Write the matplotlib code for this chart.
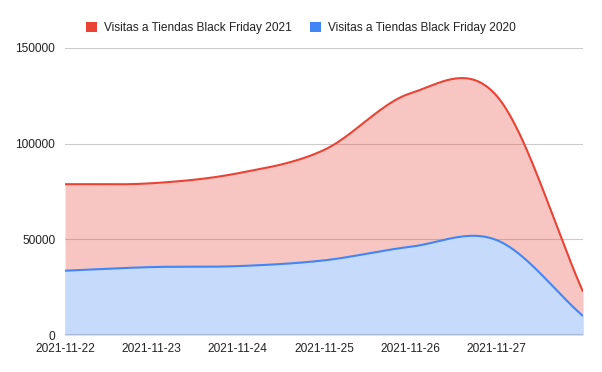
import numpy as np
import matplotlib
matplotlib.use("Agg")
import matplotlib.pyplot as plt
from matplotlib.patches import Patch

# ── data ─────────────────────────────────────────────────────────────────────
dates = ["2021-11-22", "2021-11-23", "2021-11-24", "2021-11-25",
         "2021-11-26", "2021-11-27", "2021-11-28"]
tick_labels = dates[:-1]          # the last date has no label in the original
visits_2021 = [78800, 79300, 84500, 96700, 126300, 125000, 22600]
visits_2020 = [33600, 35500, 36000, 39000, 46100, 49600, 9900]

label_2021 = "Visitas a Tiendas Black Friday 2021"
label_2020 = "Visitas a Tiendas Black Friday 2020"

RED, RED_FILL = "#ea4335", "#ea4335"
BLUE, BLUE_FILL = "#4285f4", "#c6dafc"

plt.rcParams["font.family"] = ["Liberation Sans", "DejaVu Sans"]


def smooth(y, n=40):
    """Catmull-Rom spline through the points (same look as curveType=function)."""
    y = np.asarray(y, dtype=float)
    x = np.arange(len(y), dtype=float)
    m = np.zeros_like(y)
    m[1:-1] = (y[2:] - y[:-2]) / 2.0
    m[0] = y[1] - y[0]
    m[-1] = y[-1] - y[-2]
    xs, ys = [], []
    for i in range(len(y) - 1):
        t = np.linspace(0, 1, n, endpoint=(i == len(y) - 2))
        h00 = 2 * t**3 - 3 * t**2 + 1
        h10 = t**3 - 2 * t**2 + t
        h01 = -2 * t**3 + 3 * t**2
        h11 = t**3 - t**2
        xs.append(x[i] + t)
        ys.append(h00 * y[i] + h10 * m[i] + h01 * y[i + 1] + h11 * m[i + 1])
    return np.concatenate(xs), np.concatenate(ys)


fig = plt.figure(figsize=(6.02, 3.72), dpi=100)
ax = fig.add_axes([65 / 602, 1 - 335 / 372, (583 - 65) / 602, (335 - 48) / 372])

x21, y21 = smooth(visits_2021)
x20, y20 = smooth(visits_2020)

# areas: red translucent (gridlines show through), blue on top
ax.fill_between(x21, 0, y21, color=RED_FILL, alpha=0.3, linewidth=0, zorder=2)
ax.fill_between(x20, 0, y20, color=BLUE_FILL, linewidth=0, zorder=3)
ax.plot(x21, y21, color=RED, linewidth=1.5, zorder=4, solid_capstyle="butt")
ax.plot(x20, y20, color=BLUE, linewidth=1.5, zorder=4, solid_capstyle="butt")

ax.set_xlim(0, len(dates) - 1)
ax.set_ylim(0, 150000)
ax.set_yticks([0, 50000, 100000, 150000])
ax.set_yticklabels(["0", "50000", "100000", "150000"])
ax.set_xticks(range(len(tick_labels)))
ax.set_xticklabels(tick_labels)

ax.grid(axis="y", color="#cccccc", linewidth=0.8, zorder=1)
ax.set_axisbelow(True)
ax.axhline(0, color="#333333", linewidth=1.0, zorder=5)
for s in ax.spines.values():
    s.set_visible(False)
ax.tick_params(axis="both", length=0, labelsize=8.6, colors="#222222")
ax.tick_params(axis="y", pad=7)
ax.tick_params(axis="x", pad=6)

handles = [Patch(facecolor=RED, edgecolor="none", label=label_2021),
           Patch(facecolor=BLUE, edgecolor="none", label=label_2020)]
fig.legend(handles=handles, loc="center", bbox_to_anchor=(0.5, 1 - 28 / 372),
           ncol=2, frameon=False, fontsize=8.6, handlelength=0.9,
           handleheight=0.9, handletextpad=0.6, columnspacing=1.5,
           labelcolor="#222222")

fig.savefig("out.png", dpi=100)
